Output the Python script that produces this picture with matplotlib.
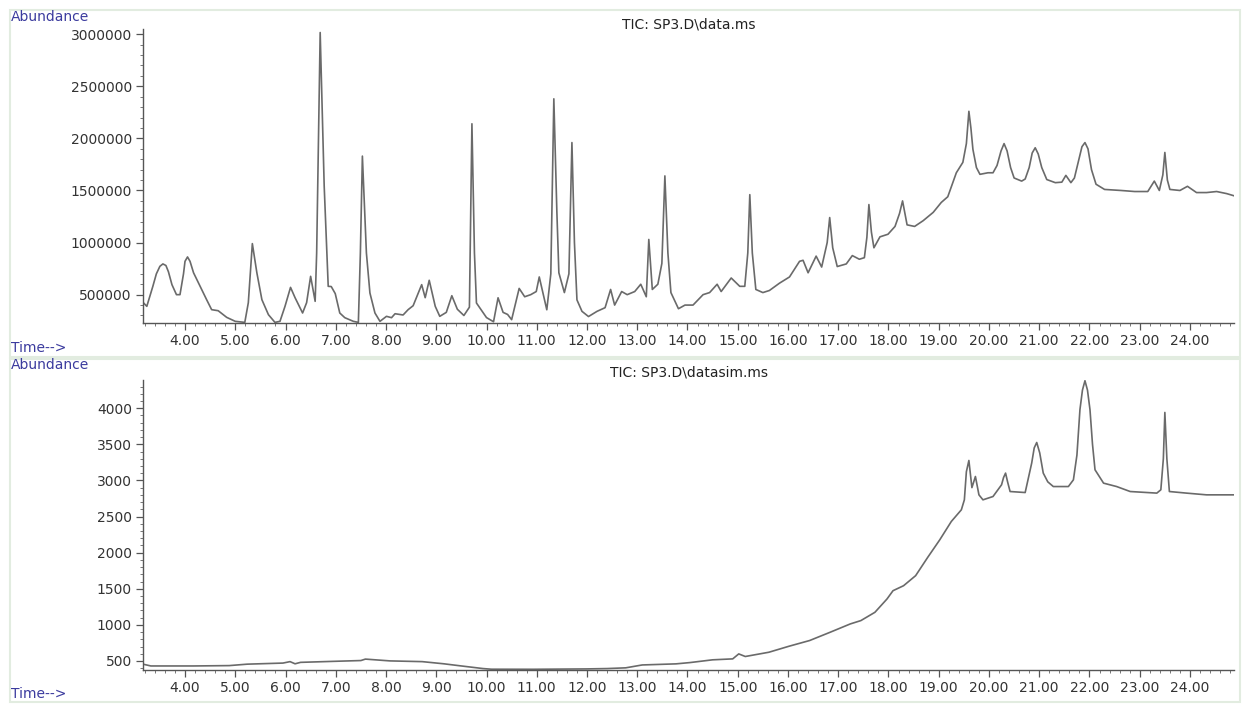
import matplotlib
matplotlib.use("Agg")
import matplotlib.pyplot as plt
from matplotlib.patches import Rectangle
from matplotlib.ticker import MultipleLocator, FormatStrFormatter

# =========================
# TIC data.ms (scan)
# =========================
tic_time = [3.17, 3.24, 3.36, 3.43, 3.50, 3.56, 3.62, 3.67, 3.74, 3.83,
            3.90, 3.97, 4.00, 4.05, 4.10, 4.17, 4.30, 4.43, 4.53, 4.66,
            4.83, 5.00, 5.19, 5.26, 5.34, 5.43, 5.53, 5.66, 5.79, 5.89,
            5.99, 6.10, 6.19, 6.34, 6.42, 6.50, 6.59, 6.62, 6.69, 6.77,
            6.85, 6.91, 6.99, 7.08, 7.18, 7.35, 7.45, 7.49, 7.53, 7.61,
            7.68, 7.78, 7.88, 8.01, 8.11, 8.18, 8.34, 8.44, 8.54, 8.71,
            8.78, 8.86, 8.98, 9.07, 9.20, 9.31, 9.42, 9.55, 9.66, 9.71,
            9.76, 9.80, 10.00, 10.14, 10.23, 10.33, 10.42, 10.50, 10.65, 10.76,
            10.88, 10.99, 11.05, 11.20, 11.28, 11.34, 11.40, 11.44, 11.55, 11.64,
            11.70, 11.75, 11.80, 11.90, 12.03, 12.20, 12.36, 12.47, 12.55, 12.69,
            12.80, 12.95, 13.07, 13.18, 13.23, 13.30, 13.41, 13.49, 13.55, 13.61,
            13.67, 13.82, 13.95, 14.11, 14.31, 14.44, 14.59, 14.67, 14.87, 15.04,
            15.14, 15.20, 15.24, 15.29, 15.36, 15.50, 15.63, 15.83, 16.03, 16.23,
            16.30, 16.40, 16.56, 16.67, 16.78, 16.83, 16.89, 16.98, 17.16, 17.28,
            17.42, 17.52, 17.57, 17.61, 17.66, 17.71, 17.83, 17.99, 18.13, 18.22,
            18.28, 18.32, 18.37, 18.52, 18.69, 18.89, 19.05, 19.18, 19.35, 19.48,
            19.55, 19.60, 19.64, 19.68, 19.75, 19.82, 19.98, 20.08, 20.16, 20.24,
            20.30, 20.36, 20.43, 20.50, 20.65, 20.72, 20.80, 20.86, 20.92, 20.98,
            21.05, 21.15, 21.32, 21.45, 21.53, 21.63, 21.70, 21.78, 21.85, 21.91,
            21.97, 22.04, 22.13, 22.30, 22.63, 22.90, 23.16, 23.29, 23.39, 23.46,
            23.50, 23.55, 23.60, 23.80, 23.95, 24.13, 24.33, 24.53, 24.73, 24.87]
tic_abund = [423000, 388000, 580000, 700000, 772000, 795000, 780000, 720000, 596000, 500000,
             500000, 700000, 820000, 862000, 820000, 710000, 580000, 452000, 356000, 346000,
             282000, 244000, 234000, 423000, 990000, 710000, 452000, 308000, 234000, 244000,
             388000, 570000, 471000, 324000, 423000, 676000, 436000, 900000, 3016000, 1541000,
             580000, 578000, 510000, 324000, 279000, 244000, 234000, 900000, 1830000, 900000,
             516000, 324000, 244000, 292000, 279000, 317000, 305000, 356000, 394000, 596000,
             471000, 638000, 388000, 292000, 330000, 490000, 360000, 300000, 380000, 2140000,
             900000, 420000, 280000, 240000, 470000, 330000, 310000, 260000, 560000, 480000,
             500000, 530000, 670000, 355000, 700000, 2380000, 1300000, 710000, 520000, 700000,
             1960000, 1000000, 450000, 340000, 290000, 340000, 375000, 550000, 400000, 530000,
             500000, 530000, 600000, 480000, 1030000, 550000, 600000, 800000, 1640000, 900000,
             520000, 365000, 400000, 400000, 500000, 520000, 600000, 530000, 660000, 580000,
             580000, 900000, 1460000, 900000, 550000, 520000, 540000, 610000, 670000, 820000,
             830000, 710000, 870000, 765000, 1000000, 1240000, 950000, 770000, 795000, 875000,
             840000, 855000, 1050000, 1365000, 1100000, 950000, 1055000, 1080000, 1155000, 1280000,
             1400000, 1300000, 1170000, 1155000, 1210000, 1290000, 1385000, 1440000, 1670000, 1770000,
             1950000, 2260000, 2100000, 1895000, 1720000, 1655000, 1670000, 1670000, 1740000, 1880000,
             1950000, 1880000, 1720000, 1620000, 1590000, 1610000, 1720000, 1860000, 1910000, 1850000,
             1720000, 1605000, 1575000, 1580000, 1645000, 1575000, 1620000, 1780000, 1920000, 1960000,
             1900000, 1700000, 1560000, 1510000, 1500000, 1490000, 1490000, 1590000, 1500000, 1650000,
             1865000, 1600000, 1510000, 1500000, 1540000, 1480000, 1480000, 1490000, 1470000, 1450000]

# =========================
# TIC datasim.ms (SIM)
# =========================
sim_time = [3.17, 3.32, 4.17, 4.88, 5.24, 5.95, 6.09, 6.19, 6.30, 7.01,
            7.50, 7.59, 8.08, 8.72, 9.15, 9.50, 9.93, 10.10, 10.93, 11.98,
            12.40, 12.77, 13.10, 13.77, 14.05, 14.50, 14.90, 15.02, 15.15, 15.62,
            16.02, 16.43, 16.84, 17.24, 17.45, 17.73, 17.97, 18.09, 18.30, 18.54,
            18.78, 19.02, 19.25, 19.45, 19.51, 19.55, 19.60, 19.66, 19.73, 19.80,
            19.88, 20.08, 20.25, 20.29, 20.33, 20.37, 20.42, 20.72, 20.85, 20.90,
            20.95, 21.01, 21.08, 21.17, 21.28, 21.58, 21.68, 21.75, 21.81, 21.86,
            21.91, 21.96, 22.01, 22.06, 22.11, 22.28, 22.54, 22.81, 23.34, 23.42,
            23.47, 23.50, 23.54, 23.59, 23.93, 24.33, 24.87]
sim_abund = [455, 431, 431, 436, 456, 471, 491, 461, 481, 496,
             506, 526, 501, 491, 461, 431, 395, 386, 385, 390,
             395, 405, 445, 460, 478, 516, 529, 598, 562, 621,
             704, 783, 898, 1013, 1059, 1174, 1358, 1473, 1542, 1681,
             1934, 2177, 2431, 2593, 2731, 3120, 3276, 2900, 3054, 2800,
             2731, 2777, 2939, 3040, 3101, 2980, 2846, 2832, 3240, 3450,
             3525, 3380, 3101, 2980, 2915, 2915, 3008, 3350, 3979, 4250,
             4380, 4250, 3979, 3500, 3147, 2962, 2915, 2846, 2824, 2870,
             3300, 3941, 3300, 2846, 2824, 2800, 2800]

tic_title = r"TIC: SP3.D\data.ms"
sim_title = r"TIC: SP3.D\datasim.ms"

# =========================
# figure / layout (pixels)
# =========================
W, H = 1246, 706
fig = plt.figure(figsize=(W / 100, H / 100), dpi=100)
fig.patch.set_facecolor("white")

blue = "#3b3b9e"
line_color = "#6a6a6a"


def px_axes(x0, y0, x1, y1):
    return fig.add_axes([x0 / W, 1 - y1 / H, (x1 - x0) / W, (y1 - y0) / H])


def style_axes(ax, ymajor, yminor):
    ax.set_xlim(3.164, 24.876)
    for side in ["top", "right"]:
        ax.spines[side].set_visible(False)
    for side in ["left", "bottom"]:
        ax.spines[side].set_color("#555555")
        ax.spines[side].set_linewidth(1.0)
    ax.xaxis.set_major_locator(MultipleLocator(1))
    ax.xaxis.set_minor_locator(MultipleLocator(0.2))
    ax.xaxis.set_major_formatter(FormatStrFormatter("%.2f"))
    ax.yaxis.set_major_locator(MultipleLocator(ymajor))
    ax.yaxis.set_minor_locator(MultipleLocator(yminor))
    ax.yaxis.set_major_formatter(FormatStrFormatter("%d"))
    ax.tick_params(axis="both", which="major", length=5, width=0.9,
                   color="#555555", labelsize=10, labelcolor="#333333", pad=3)
    ax.tick_params(axis="both", which="minor", length=2.5, width=0.7,
                   color="#777777")


# =========================
# panel frames
# =========================
for (y0, y1) in [(10, 357), (359, 702)]:
    fig.add_artist(Rectangle((10 / W, 1 - y1 / H), (1240 - 10) / W, (y1 - y0) / H,
                             transform=fig.transFigure, fill=False,
                             ec="#e2ece0", lw=1.5))

# =========================
# top: scan TIC
# =========================
ax1 = px_axes(143, 29, 1234, 323)
ax1.plot(tic_time, tic_abund, color=line_color, linewidth=1.2)
ax1.set_ylim(228000, 3050000)
style_axes(ax1, 500000, 100000)

# =========================
# bottom: SIM TIC
# =========================
ax2 = px_axes(143, 380, 1234, 669.5)
ax2.plot(sim_time, sim_abund, color=line_color, linewidth=1.2)
ax2.set_ylim(382, 4390)
style_axes(ax2, 500, 100)

# =========================
# labels
# =========================
fig.text(11 / W, 1 - 17 / H, "Abundance", color=blue, fontsize=10,
         va="center", ha="left")
fig.text(11 / W, 1 - 348 / H, "Time-->", color=blue, fontsize=10,
         va="center", ha="left")
fig.text(11 / W, 1 - 365 / H, "Abundance", color=blue, fontsize=10,
         va="center", ha="left")
fig.text(11 / W, 1 - 694 / H, "Time-->", color=blue, fontsize=10,
         va="center", ha="left")
fig.text(689 / W, 1 - 25 / H, tic_title, fontsize=10, color="#222222",
         ha="center", va="center")
fig.text(689 / W, 1 - 373 / H, sim_title, fontsize=10, color="#222222",
         ha="center", va="center")

fig.savefig("out.png", dpi=100)
